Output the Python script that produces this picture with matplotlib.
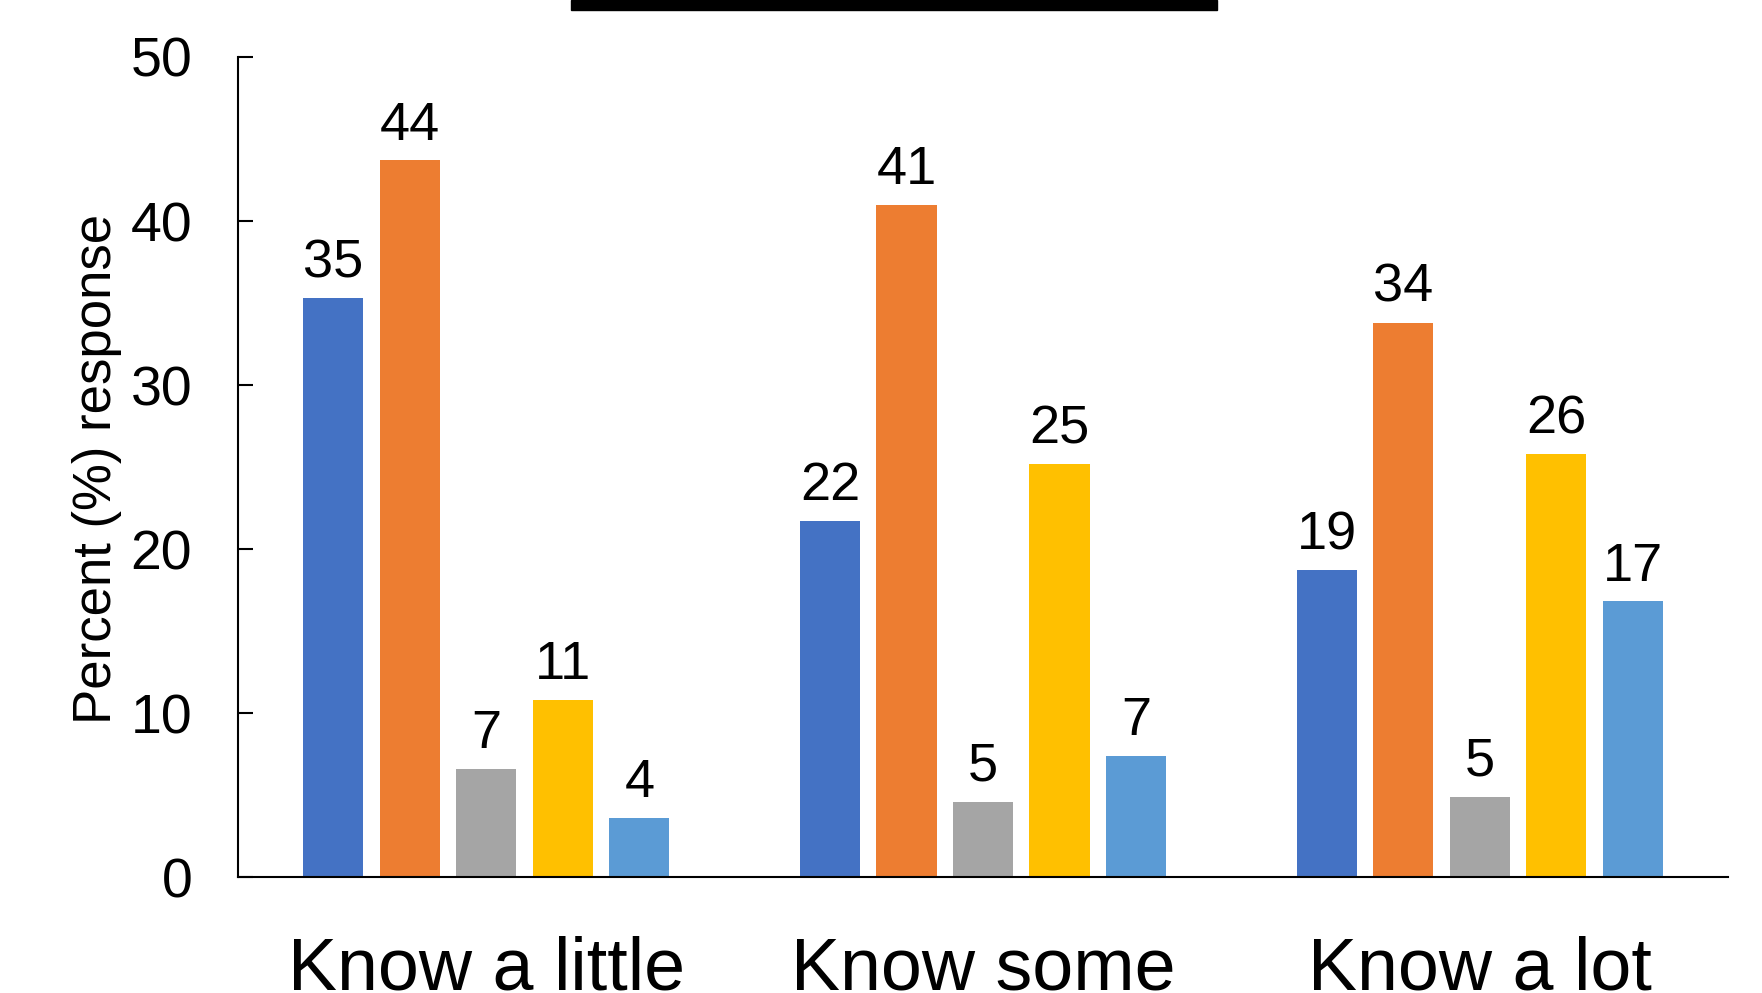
import numpy as np
import matplotlib
matplotlib.use('Agg')
import matplotlib.pyplot as plt
from matplotlib.patches import Rectangle

plt.rcParams['font.family'] = ['Liberation Sans', 'DejaVu Sans']

categories = ['Know a little', 'Know some', 'Know a lot']
series_1 = [35.3, 21.7, 18.7]
series_2 = [43.7, 41.0, 33.8]
series_3 = [6.6, 4.6, 4.9]
series_4 = [10.8, 25.2, 25.8]
series_5 = [3.6, 7.4, 16.8]
colors = ['#4472C4', '#ED7D31', '#A5A5A5', '#FFC000', '#5B9BD5']


def main():
    fig = plt.figure(figsize=(17.62, 9.93), dpi=100)
    ax = fig.add_axes([0.1351, 0.1168, 0.8456, 0.8258])

    x = np.arange(len(categories))
    step = 0.154
    width = 0.121
    all_series = [series_1, series_2, series_3, series_4, series_5]
    for i, vals in enumerate(all_series):
        pos = x + (i - 2) * step
        bars = ax.bar(pos, vals, width=width, color=colors[i], linewidth=0)
        for b, v in zip(bars, vals):
            ax.annotate('%.0f' % v, (b.get_x() + b.get_width() / 2, v),
                        xytext=(0, 7), textcoords='offset points',
                        ha='center', va='bottom', fontsize=39)

    ax.set_xlim(-0.5, 2.5)
    ax.set_ylim(0, 50)
    ax.set_yticks(range(0, 51, 10))
    ax.tick_params(axis='y', direction='in', length=11, width=1.5,
                   pad=33, labelsize=40)
    ax.set_xticks(x)
    ax.set_xticklabels(categories)
    ax.tick_params(axis='x', length=0, pad=42, labelsize=53)
    ax.spines['top'].set_visible(False)
    ax.spines['right'].set_visible(False)
    for s in ['left', 'bottom']:
        ax.spines[s].set_linewidth(1.5)

    fig.text(97 / 1762, 1 - 469 / 993, 'Percent (%) response', rotation=90,
             ha='center', va='center', fontsize=38)

    # black title band clipped at the top edge
    fig.patches.append(Rectangle((571 / 1762, 1 - 10 / 993), 646 / 1762, 10 / 993,
                                 transform=fig.transFigure, color='black'))

    fig.savefig('out.png', dpi=100)


if __name__ == '__main__':
    main()
